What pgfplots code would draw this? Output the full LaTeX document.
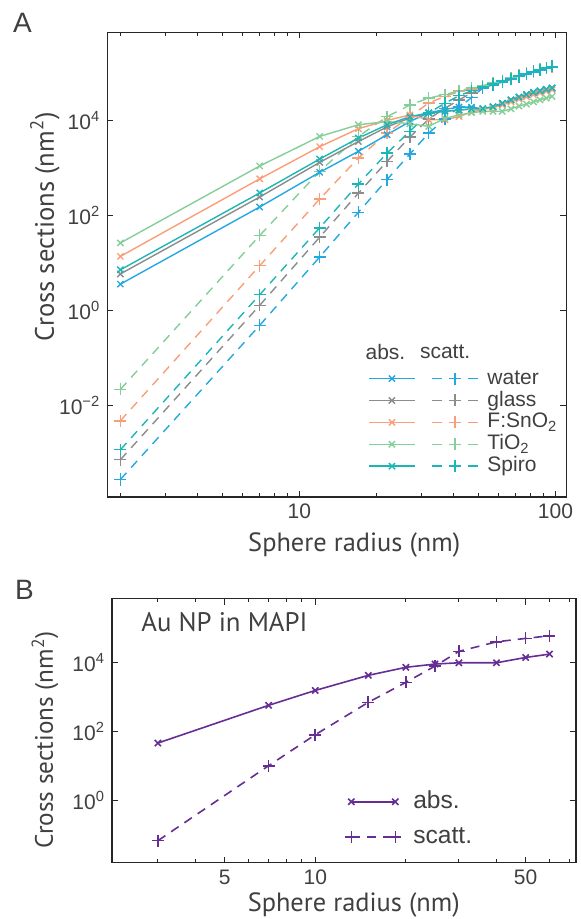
\documentclass[border=0pt]{standalone}
\usepackage{fontspec}
\setmainfont{Liberation Sans}
\newfontfamily\labfont{PT Sans}
\usepackage{pgfplots}
\pgfplotsset{compat=1.18}
\usepackage{pgfplotstable}

\definecolor{cwater}{RGB}{35,168,226}
\definecolor{cglass}{RGB}{140,140,140}
\definecolor{cfto}{RGB}{248,158,120}
\definecolor{ctio}{RGB}{132,206,152}
\definecolor{cspiro}{RGB}{28,182,182}
\definecolor{cpurp}{RGB}{102,46,148}
\definecolor{ctext}{RGB}{64,64,64}

% r: sphere radius; wa/ws water abs/scatt; ga/gs glass; fa/fs F:SnO2; ta/ts TiO2; sa/ss Spiro
\pgfplotstableread{
r  wa     ws      ga     gs      fa     fs      ta     ts      sa     ss
2  3.6    2.8e-4  5.9    7.3e-4  13.8   4.8e-3  26.5   0.022   7.2    1.18e-3
7  151    0.49    245    1.29    590    8.8     1100   38      298    2.15
12 810    13.4    1310   35      2800   222     4600   850     1540   55
17 2240   117     3600   295     6700   1620    8100   4600    4260   460
22 5000   570     7300   1380    10000  5400    9500   12000   8100   2060
27 9500   1960    11300  4470    13000  12000   8500   21000   12000  5900
32 14400  5400    14400  10700   10300  23300   7500   29600   14400  14400
37 17000  10700   15500  18000   10300  32000   11000  35000   15500  23000
42 19000  19000   16500  27000   12000  40000   13000  42000   16500  33000
47 19000  30000   17500  38000   15000  46000   14500  48000   17500  42000
52 17500  48000   17500  48000   17000  52000   15500  54000   17800  50000
57 19000  56000   19000  56000   18500  59000   15500  61000   19500  58000
62 23000  64000   22500  65000   21000  67000   15500  69000   23000  67000
67 27000  73000   26500  74000   24500  76000   17500  78000   27000  76000
72 31000  83000   30500  84000   28000  86000   20000  88000   31000  86000
77 35000  93000   34500  94000   31500  96000   22000  98000   35000  96000
82 39000  104000  38500  105000  35000  106000  24500  108000  39000  107000
87 42000  114000  41500  115000  38000  116000  27000  118000  42000  117000
92 45000  124000  44500  125000  41000  126000  29500  128000  45000  127000
97 48000  134000  47500  135000  44000  135000  32000  138000  48000  137000
}\topdata

\pgfplotstableread{
r  ab     sc
3  46     0.07
7  565    10.2
10 1520   80
15 4140   689
20 7070   2600
25 8770   7670
30 9560   20400
40 9560   38500
50 13600  48300
60 17000  57500
}\botdata

\tikzset{
  absst/.style={solid, line width=0.7pt, mark=x, mark size=2.2pt, mark options={solid}},
  scast/.style={dash pattern=on 4.5pt off 3.5pt, line width=0.7pt, mark=+, mark size=3pt, mark options={solid}},
}

\begin{document}
\begin{tikzpicture}
\useasboundingbox (0pt,0pt) rectangle (290.5pt,459.5pt);
\node[anchor=west, font=\fontsize{14}{16}\selectfont, text=ctext] at (3pt,448pt) {A};
\node[anchor=west, font=\fontsize{14}{16}\selectfont, text=ctext] at (4pt,164.5pt) {B};
\node[rotate=90, anchor=center, font=\labfont\fontsize{13.3}{15}\selectfont, text=ctext] at (22.5pt,346pt) {Cross sections (nm\textsuperscript{2})};
\node[rotate=90, anchor=center, font=\labfont\fontsize{12.6}{14}\selectfont, text=ctext] at (22.5pt,89.5pt) {Cross sections (nm\textsuperscript{2})};

\begin{axis}[
  scale only axis, xmode=log, ymode=log,
  axis line style={line width=0.7pt, draw=black!85},
  tick align=inside, major tick length=3pt, minor tick length=1.8pt,
  tick style={black!85, line width=0.5pt},
  tick label style={font=\fontsize{10.5}{12}\selectfont, text=ctext},
  clip=false,
  at={(53.65pt,211pt)}, anchor=south west,
  width=229.5pt, height=232.3pt,
  xmin=1.778, xmax=110.2, ymin=1.2e-4, ymax=7.1e5,
  xtick={10,100}, xticklabels={10,100},
  minor xtick={2,3,4,5,6,7,8,9,20,30,40,50,60,70,80,90},
  ytick={1e-2,1,1e2,1e4},
  yticklabels={10\textsuperscript{−2},10\textsuperscript{0},10\textsuperscript{2},10\textsuperscript{4}},
  xlabel={Sphere radius (nm)},
  xlabel style={at={(axis description cs:0.538,0)}, anchor=center, yshift=-24pt, font=\labfont\fontsize{13.2}{15}\selectfont, text=ctext},
  legend columns=2,
  legend cell align=left,
  legend style={at={(0.555,0.285)}, anchor=north west, draw=none, fill=none,
    font=\fontsize{10.5}{10.5}\selectfont, text=ctext,
    nodes={inner sep=0pt, text height=7.6pt, text depth=2pt},
    row sep=1.35pt,
    /tikz/every odd column/.append style={column sep=4.5pt},
    /tikz/every even column/.append style={column sep=2.5pt}},
  legend image code/.code={\draw[mark repeat=2, mark phase=2, #1] plot coordinates {(0pt,0pt) (11.4pt,0pt) (22.8pt,0pt)};},
]
\addlegendimage{cwater, absst}\addlegendentry{}
\addlegendimage{cwater, scast, dash pattern=on 5pt off 4pt}\addlegendentry{water}
\addlegendimage{cglass, absst}\addlegendentry{}
\addlegendimage{cglass, scast, dash pattern=on 5pt off 4pt}\addlegendentry{glass}
\addlegendimage{cfto, absst}\addlegendentry{}
\addlegendimage{cfto, scast, dash pattern=on 5pt off 4pt}\addlegendentry{F:SnO\textsubscript{2}}
\addlegendimage{ctio, absst}\addlegendentry{}
\addlegendimage{ctio, scast, dash pattern=on 5pt off 4pt}\addlegendentry{TiO\textsubscript{2}}
\addlegendimage{cspiro, absst}\addlegendentry{}
\addlegendimage{cspiro, scast, dash pattern=on 5pt off 4pt}\addlegendentry{Spiro}

\addplot[cglass, scast, forget plot] table[x=r, y=gs] {\topdata};
\addplot[cwater, scast, forget plot] table[x=r, y=ws] {\topdata};
\addplot[cfto, scast, forget plot] table[x=r, y=fs] {\topdata};
\addplot[ctio, scast, forget plot] table[x=r, y=ts] {\topdata};
\addplot[cspiro, scast, forget plot] table[x=r, y=ss] {\topdata};
\addplot[cglass, absst, forget plot] table[x=r, y=ga] {\topdata};
\addplot[cwater, absst, forget plot] table[x=r, y=wa] {\topdata};
\addplot[cfto, absst, forget plot] table[x=r, y=fa] {\topdata};
\addplot[ctio, absst, forget plot] table[x=r, y=ta] {\topdata};
\addplot[cspiro, absst, forget plot] table[x=r, y=sa] {\topdata};

\node[font=\fontsize{10.5}{12}\selectfont, text=ctext] at (rel axis cs:0.606,0.312) {abs.};
\node[font=\fontsize{10.5}{12}\selectfont, text=ctext] at (rel axis cs:0.736,0.312) {scatt.};
\end{axis}

\begin{axis}[
  scale only axis, xmode=log, ymode=log,
  axis line style={line width=0.7pt, draw=black!85},
  tick align=inside, major tick length=3pt, minor tick length=1.8pt,
  tick style={black!85, line width=0.5pt},
  tick label style={font=\fontsize{10.5}{12}\selectfont, text=ctext},
  clip=false,
  at={(56pt,28.15pt)}, anchor=south west,
  width=232pt, height=132pt,
  xmin=2.112, xmax=73.5, ymin=0.0162, ymax=6.76e5,
  xtick={5,10,50}, xticklabels={5,10,50},
  minor xtick={3,4,6,7,8,9,20,30,40,60,70},
  ytick={1,1e2,1e4},
  yticklabels={10\textsuperscript{0},10\textsuperscript{2},10\textsuperscript{4}},
  xlabel={Sphere radius (nm)},
  xlabel style={at={(axis description cs:0.521,0)}, anchor=center, yshift=-21pt, font=\labfont\fontsize{13.2}{15}\selectfont, text=ctext},
  legend cell align=left,
  legend style={at={(0.489,0.291)}, anchor=north west, draw=none, fill=none,
    font=\fontsize{12.3}{12.3}\selectfont, text=ctext,
    nodes={inner sep=0pt, text height=9pt, text depth=2.5pt},
    row sep=6pt,
    /tikz/every odd column/.append style={column sep=6pt}},
  legend image code/.code={\draw[#1] plot coordinates {(0pt,0pt) (22pt,0pt)};},
]
\addplot[cpurp, absst, line width=0.8pt] table[x=r, y=ab] {\botdata};
\addlegendentry{abs.}
\addplot[cpurp, scast, line width=0.8pt] table[x=r, y=sc] {\botdata};
\addlegendentry{scatt.}
\node[anchor=west, font=\labfont\fontsize{13.4}{15}\selectfont, text=ctext] at (rel axis cs:0.048,0.912) {Au NP in MAPI};
\end{axis}
\end{tikzpicture}
\end{document}
